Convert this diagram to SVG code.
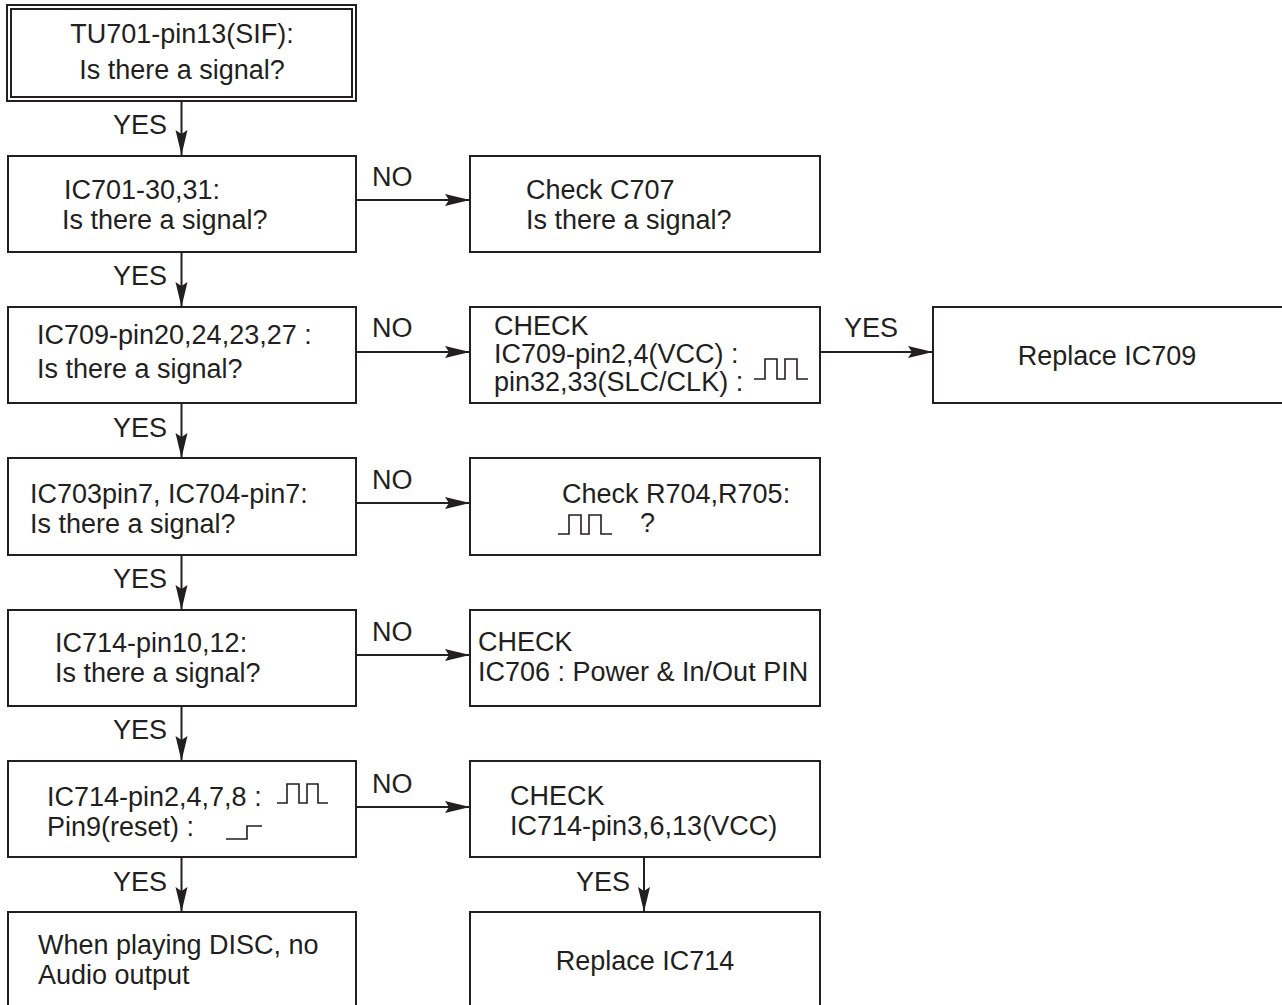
<svg xmlns="http://www.w3.org/2000/svg" width="1282" height="1005" viewBox="0 0 1282 1005">
<style>
.box{fill:#fff;stroke:#231f20;stroke-width:2}
.t{font-family:"Liberation Sans",Arial,sans-serif;font-size:27px;fill:#231f20}
.c{stroke:#231f20;stroke-width:2;fill:none}
.w{stroke:#231f20;stroke-width:1.6;fill:none}
</style>
<defs>
<marker id="ah" markerUnits="userSpaceOnUse" markerWidth="28" markerHeight="15" refX="25" refY="7" orient="auto">
<path d="M0,1 L25,7 L0,13 L4,7 Z" fill="#231f20"/>
</marker>
</defs>
<rect width="1282" height="1005" fill="#fff"/>
<g id="connectors">
<line class="c" x1="181.5" y1="101" x2="181.5" y2="155" marker-end="url(#ah)"/>
<text class="t" x="113" y="134">YES</text>
<line class="c" x1="356" y1="200" x2="470" y2="200" marker-end="url(#ah)"/>
<text class="t" x="372" y="186">NO</text>
<line class="c" x1="181.5" y1="252" x2="181.5" y2="307" marker-end="url(#ah)"/>
<text class="t" x="113" y="285">YES</text>
<line class="c" x1="356" y1="352" x2="470" y2="352" marker-end="url(#ah)"/>
<text class="t" x="372" y="337">NO</text>
<line class="c" x1="820" y1="352" x2="933" y2="352" marker-end="url(#ah)"/>
<text class="t" x="844" y="337">YES</text>
<line class="c" x1="181.5" y1="403" x2="181.5" y2="458" marker-end="url(#ah)"/>
<text class="t" x="113" y="437">YES</text>
<line class="c" x1="356" y1="503" x2="470" y2="503" marker-end="url(#ah)"/>
<text class="t" x="372" y="489">NO</text>
<line class="c" x1="181.5" y1="555" x2="181.5" y2="610" marker-end="url(#ah)"/>
<text class="t" x="113" y="588">YES</text>
<line class="c" x1="356" y1="655" x2="470" y2="655" marker-end="url(#ah)"/>
<text class="t" x="372" y="641">NO</text>
<line class="c" x1="181.5" y1="706" x2="181.5" y2="761" marker-end="url(#ah)"/>
<text class="t" x="113" y="739">YES</text>
<line class="c" x1="356" y1="807" x2="470" y2="807" marker-end="url(#ah)"/>
<text class="t" x="372" y="793">NO</text>
<line class="c" x1="181.5" y1="857" x2="181.5" y2="912" marker-end="url(#ah)"/>
<text class="t" x="113" y="891">YES</text>
<line class="c" x1="644" y1="857" x2="644" y2="912" marker-end="url(#ah)"/>
<text class="t" x="576" y="891">YES</text>
</g>
<g id="n1">
<rect class="box" x="7" y="5" width="349" height="96"/>
<rect class="box" x="11" y="9" width="341" height="88" stroke-width="1.5"/>
<text class="t" x="182" y="43" text-anchor="middle">TU701-pin13(SIF):</text>
<text class="t" x="182" y="79" text-anchor="middle">Is there a signal?</text>
</g>
<g id="n2">
<rect class="box" x="8" y="156" width="348" height="96"/>
<text class="t" x="64" y="199">IC701-30,31:</text>
<text class="t" x="62" y="229">Is there a signal?</text>
</g>
<g id="n3">
<rect class="box" x="470" y="156" width="350" height="96"/>
<text class="t" x="526" y="199">Check C707</text>
<text class="t" x="526" y="229">Is there a signal?</text>
</g>
<g id="n4">
<rect class="box" x="8" y="307" width="348" height="96"/>
<text class="t" x="37" y="344">IC709-pin20,24,23,27 :</text>
<text class="t" x="37" y="378">Is there a signal?</text>
</g>
<g id="n5">
<rect class="box" x="470" y="307" width="350" height="96"/>
<text class="t" x="494" y="335">CHECK</text>
<text class="t" x="494" y="363">IC709-pin2,4(VCC) :</text>
<text class="t" x="494" y="391">pin32,33(SLC/CLK) :</text>
<path class="w" d="M754,379 H765 V359 H777 V379 H785 V359 H797 V379 H808"/>
</g>
<g id="n6">
<rect class="box" x="933" y="307" width="351" height="96"/>
<text class="t" x="1107" y="365" text-anchor="middle">Replace IC709</text>
</g>
<g id="n7">
<rect class="box" x="8" y="458" width="348" height="97"/>
<text class="t" x="30" y="503">IC703pin7, IC704-pin7:</text>
<text class="t" x="30" y="533">Is there a signal?</text>
</g>
<g id="n8">
<rect class="box" x="470" y="458" width="350" height="97"/>
<text class="t" x="562" y="503">Check R704,R705:</text>
<path class="w" d="M558,534 H569 V515 H581 V534 H589 V515 H601 V534 H612"/>
<text class="t" x="640" y="532">?</text>
</g>
<g id="n9">
<rect class="box" x="8" y="610" width="348" height="96"/>
<text class="t" x="55" y="652">IC714-pin10,12:</text>
<text class="t" x="55" y="682">Is there a signal?</text>
</g>
<g id="n10">
<rect class="box" x="470" y="610" width="350" height="96"/>
<text class="t" x="478" y="651">CHECK</text>
<text class="t" x="478" y="681">IC706 : Power &amp; In/Out PIN</text>
</g>
<g id="n11">
<rect class="box" x="8" y="761" width="348" height="96"/>
<text class="t" x="47" y="806">IC714-pin2,4,7,8 :</text>
<path class="w" d="M277,803 H287 V784 H299 V803 H307 V784 H318 V803 H328"/>
<text class="t" x="47" y="836">Pin9(reset) :</text>
<path class="w" d="M226,839 H247 V826 H262"/>
</g>
<g id="n12">
<rect class="box" x="470" y="761" width="350" height="96"/>
<text class="t" x="510" y="805">CHECK</text>
<text class="t" x="510" y="835">IC714-pin3,6,13(VCC)</text>
</g>
<g id="n13">
<rect class="box" x="8" y="912" width="348" height="100"/>
<text class="t" x="38" y="954">When playing DISC, no</text>
<text class="t" x="38" y="984">Audio output</text>
</g>
<g id="n14">
<rect class="box" x="470" y="912" width="350" height="100"/>
<text class="t" x="645" y="970" text-anchor="middle">Replace IC714</text>
</g>
</svg>
